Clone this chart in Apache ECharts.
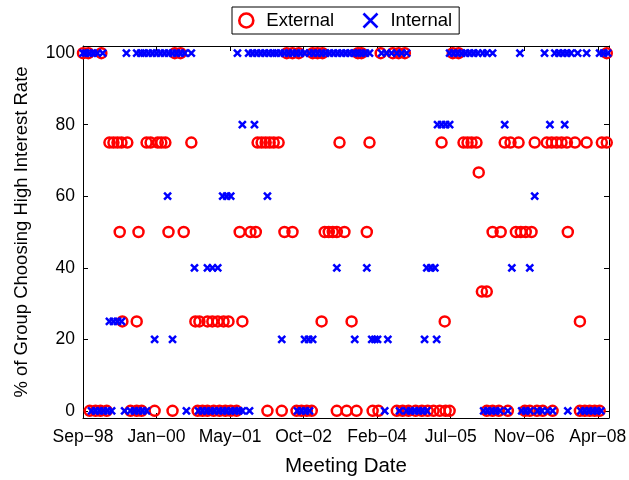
<!DOCTYPE html>
<html>
<head>
<meta charset="utf-8">
<script src="https://cdn.jsdelivr.net/npm/echarts@6/dist/echarts.min.js"></script>
<style>
  html, body { margin: 0; padding: 0; background: #fff; }
  #chart { width: 629px; height: 480px; }
</style>
</head>
<body>
<div id="chart"></div>
<script>
// x values: months elapsed since September 1998 (meeting date)
const tickLabels = ['Sep\u221298', 'Jan\u221200', 'May\u221201', 'Oct\u221202', 'Feb\u221204', 'Jul\u221205', 'Nov\u221206', 'Apr\u221208'];
const yTickValues = [0, 20, 40, 60, 80, 100];

// External group: meeting dates (months since Sep-98) by share choosing the high rate
const external100 = [0.0, 1.2, 4.1, 20.5, 21.8, 45.5, 46.8, 48.2, 51.3, 52.4, 53.5, 61.4, 62.2, 66.5, 69.2, 70.5, 71.9, 82.6, 83.9, 117.0];
const external75 = [5.9, 6.8, 7.7, 8.6, 9.9, 14.2, 15.1, 16.7, 17.5, 18.4, 24.2, 39.0, 39.9, 40.8, 41.7, 42.6, 43.7, 57.3, 64.0, 80.1, 85.0, 85.9, 86.8, 87.9, 94.2, 95.5, 97.3, 100.9, 103.6, 104.7, 105.8, 106.9, 108.1, 109.9, 112.5, 115.9, 117.0];
const external67 = [88.4];
const external50 = [8.2, 12.4, 19.1, 22.5, 35.0, 37.4, 38.6, 45.0, 46.8, 54.0, 54.9, 55.8, 56.7, 58.4, 63.4, 91.5, 93.3, 96.7, 97.8, 98.9, 100.2, 108.3];
const external33 = [89.1, 90.2];
const external25 = [8.8, 12.0, 25.1, 26.0, 27.8, 28.9, 30.1, 31.4, 32.5, 35.6, 53.3, 60.0, 80.8, 111.0];
const external0 = [1.5, 2.8, 3.9, 5.3, 10.6, 12.0, 13.1, 16.0, 20.0, 25.6, 26.7, 27.8, 29.2, 30.5, 31.8, 33.0, 34.3, 41.2, 44.4, 47.7, 48.8, 50.0, 51.1, 56.7, 58.9, 61.1, 64.7, 66.0, 70.1, 71.4, 72.7, 74.3, 75.7, 77.0, 78.3, 79.7, 81.0, 81.9, 90.2, 91.5, 92.9, 94.9, 98.7, 99.8, 101.4, 102.7, 104.9, 111.0, 112.1, 113.2, 114.3, 115.4];

// Internal group
const internal100 = [0.0, 0.6, 1.5, 2.3, 3.2, 4.4, 9.7, 12.0, 12.9, 13.7, 14.6, 15.5, 16.4, 17.3, 18.2, 19.1, 20.0, 20.9, 21.8, 22.7, 24.2, 34.5, 37.0, 37.9, 38.8, 39.7, 40.6, 41.5, 42.4, 43.2, 44.1, 45.0, 45.9, 46.8, 47.7, 48.6, 49.5, 50.6, 51.5, 52.4, 53.3, 54.2, 55.1, 56.0, 56.9, 57.8, 58.7, 59.6, 60.5, 61.4, 62.2, 63.1, 64.0, 66.7, 67.8, 68.9, 70.1, 71.2, 72.3, 81.9, 82.8, 83.7, 84.6, 85.5, 86.4, 87.3, 88.2, 89.3, 90.2, 91.5, 97.6, 103.1, 105.4, 106.3, 107.2, 108.1, 109.0, 110.5, 112.5, 115.4, 116.3, 117.2];
const internal80 = [35.6, 38.3, 79.2, 80.1, 81.0, 81.9, 94.2, 104.3, 107.6];
const internal60 = [18.9, 31.2, 32.1, 33.0, 41.2, 100.9];
const internal40 = [24.9, 27.8, 28.9, 30.1, 56.7, 63.4, 76.8, 77.7, 78.6, 95.8, 99.8];
const internal25 = [5.9, 6.8, 7.7, 8.6];
const internal20 = [16.0, 20.0, 44.4, 49.5, 50.4, 51.3, 60.7, 64.5, 65.2, 65.8, 68.1, 76.3, 79.0];
const internal0 = [1.9, 2.8, 3.7, 4.6, 5.5, 6.4, 9.3, 10.6, 11.5, 12.4, 13.3, 14.2, 23.1, 25.8, 26.7, 27.6, 28.5, 29.4, 30.3, 31.2, 32.1, 33.0, 33.9, 34.8, 35.6, 37.2, 47.9, 48.8, 49.7, 50.6, 67.4, 70.7, 72.3, 73.2, 74.1, 75.0, 75.9, 76.8, 89.5, 90.4, 91.3, 92.2, 93.1, 94.9, 98.0, 98.9, 99.8, 101.6, 102.5, 103.8, 104.9, 108.3, 111.2, 112.1, 113.0, 113.9, 114.8, 115.7];

function build(groups) {
  const out = [];
  groups.forEach(([pct, months]) => months.forEach(m => out.push([m, pct])));
  return out;
}
const externalData = build([[100, external100], [75, external75], [200 / 3, external67], [50, external50], [100 / 3, external33], [25, external25], [0, external0]]);
const internalData = build([[100, internal100], [80, internal80], [60, internal60], [40, internal40], [25, internal25], [20, internal20], [0, internal0]]);

const tickStep = 115 / 7;
const xTickValues = tickLabels.map((_, i) => i * tickStep);

const FONT = 'Liberation Sans, Arial, sans-serif';
const RED = '#ff0000';
const BLUE = '#0000ff';
const XMARK = 'path://M0,0L10,10M10,0L0,10';

const axisLineStyle = { show: true, onZero: false, lineStyle: { color: '#000', width: 1 } };
const tickStyle = vals => ({ show: true, inside: true, length: 5, customValues: vals, lineStyle: { color: '#000' } });

const chart = echarts.init(document.getElementById('chart'), null, { renderer: 'canvas' });
chart.setOption({
  animation: false,
  backgroundColor: '#fff',
  textStyle: { fontFamily: FONT },
  grid: { left: 83, right: 20, top: 46, bottom: 62, show: false, containLabel: false, outerBoundsMode: 'none' },
  legend: {
    left: 232, top: 7,
    orient: 'horizontal',
    backgroundColor: '#fff',
    borderColor: '#000', borderWidth: 1,
    padding: [4, 7, 4, 6],
    itemWidth: 30, itemHeight: 14, itemGap: 28,
    textStyle: { fontSize: 18.5, color: '#000', fontFamily: FONT },
    data: [
      { name: 'External', icon: 'circle', itemStyle: { color: 'transparent', borderColor: RED, borderWidth: 2.6, opacity: 1 } },
      { name: 'Internal', icon: XMARK, itemStyle: { color: 'transparent', borderColor: BLUE, borderWidth: 2.6, opacity: 1 } }
    ]
  },
  xAxis: [
    {
      type: 'value', position: 'bottom', min: 0, max: 117.5,
      name: 'Meeting Date', nameLocation: 'middle', nameGap: 38,
      nameTextStyle: { fontSize: 20.5, color: '#000', fontFamily: FONT },
      axisLine: axisLineStyle,
      axisTick: tickStyle(xTickValues),
      axisLabel: { show: true, customValues: xTickValues, fontSize: 17.5, color: '#000', margin: 10, fontFamily: FONT,
        formatter: v => tickLabels[Math.round(v / tickStep)] },
      splitLine: { show: false }
    },
    {
      type: 'value', position: 'top', min: 0, max: 117.5,
      axisLine: axisLineStyle,
      axisTick: tickStyle(xTickValues),
      axisLabel: { show: false },
      splitLine: { show: false }
    }
  ],
  yAxis: [
    {
      type: 'value', position: 'left', min: -2, max: 102,
      name: '% of Group Choosing High Interest Rate', nameLocation: 'middle', nameGap: 52,
      nameTextStyle: { fontSize: 18.5, color: '#000', fontFamily: FONT },
      axisLine: axisLineStyle,
      axisTick: tickStyle(yTickValues),
      axisLabel: { show: true, customValues: yTickValues, fontSize: 17.5, color: '#000', margin: 8, fontFamily: FONT },
      splitLine: { show: false }
    },
    {
      type: 'value', position: 'right', min: -2, max: 102,
      axisLine: axisLineStyle,
      axisTick: tickStyle(yTickValues),
      axisLabel: { show: false },
      splitLine: { show: false }
    }
  ],
  series: [
    {
      name: 'External', type: 'scatter', xAxisIndex: 0, yAxisIndex: 0,
      symbol: 'circle', symbolSize: 10, clip: false,
      itemStyle: { color: 'transparent', borderColor: RED, borderWidth: 2.5, opacity: 1 },
      data: externalData
    },
    {
      name: 'Internal', type: 'scatter', xAxisIndex: 0, yAxisIndex: 0,
      symbol: XMARK, symbolSize: 7, clip: false,
      itemStyle: { color: 'transparent', borderColor: BLUE, borderWidth: 2.5, opacity: 1 },
      data: internalData
    }
  ]
});
</script>
</body>
</html>
